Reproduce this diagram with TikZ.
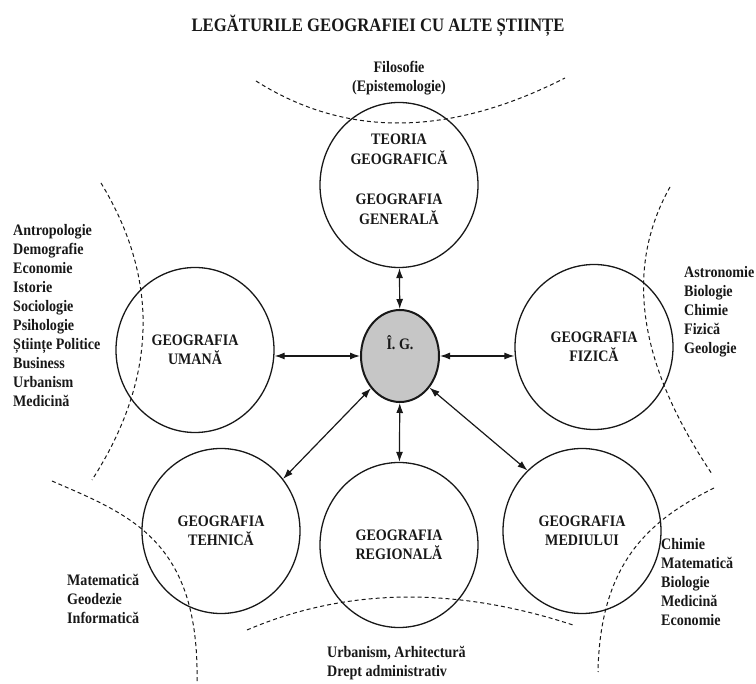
\documentclass[tikz,border=0pt]{standalone}
\usepackage{fontspec}
\setmainfont{Liberation Serif}[FakeStretch=0.88]
\usetikzlibrary{shapes.geometric,arrows.meta}
\definecolor{ink}{RGB}{24,24,24}
\definecolor{igfill}{RGB}{198,198,198}
\begin{document}
\begin{tikzpicture}[x=1pt,y=-1pt,
    every node/.style={font=\fontsize{16}{19}\selectfont\bfseries, text=ink},
    geo/.style={draw=ink, line width=1.3pt, ellipse, minimum width=158pt, minimum height=165pt, inner sep=0pt, align=center},
    link/.style={draw=ink, line width=1.2pt, {Latex[length=10pt,width=7pt]}-{Latex[length=10pt,width=7pt]}},
    border/.style={draw=ink, line width=1pt, dash pattern=on 4pt off 3pt},
    lst/.style={align=left, anchor=base west, inner sep=0pt}]
  \useasboundingbox (0,0) rectangle (756,684);
  \node[anchor=base, inner sep=0pt, font=\fontsize{19}{23}\selectfont\bfseries] (title) at (378,32) {LEGĂTURILE GEOGRAFIEI CU ALTE ȘTIINȚE};
  \draw[border] (256,81) .. controls (346,138) and (449,137) .. (565,78);
  \draw[border] (101,183) .. controls (160,280) and (157,379) .. (92,480);
  \draw[border] (670,187) .. controls (624,269) and (638,364) .. (712,474);
  \draw[border] (52,481) .. controls (130,515) and (200,540) .. (197,684);
  \draw[border] (714,488) .. controls (652,519) and (600,560) .. (598,672);
  \draw[border] (247,630) .. controls (345,588) and (454,586) .. (573,625);
  \node[geo] (teo) at (399,185) {\raisebox{40pt}[0pt][0pt]{\begin{tabular}[t]{@{}c@{}}TEORIA\\GEOGRAFICĂ\\[21pt]GEOGRAFIA\\GENERALĂ\end{tabular}}};
  \node[geo] (uma) at (195,350) {GEOGRAFIA\\UMANĂ};
  \node[geo] (fiz) at (594,347) {GEOGRAFIA\\FIZICĂ};
  \node[geo] (teh) at (221,531) {GEOGRAFIA\\TEHNICĂ};
  \node[geo] (reg) at (399,545) {GEOGRAFIA\\REGIONALĂ};
  \node[geo] (med) at (582,531) {GEOGRAFIA\\MEDIULUI};
  \node[ellipse, draw=ink, line width=2pt, fill=igfill, minimum width=78pt, minimum height=92pt, inner sep=0pt] (ig) at (400,356) {\raisebox{6pt}[0pt][0pt]{Î. G.}};
  \draw[link] (teo) -- (ig);
  \draw[link] (ig.west) -- (ig.west -| uma.east);
  \draw[link] (ig.east) -- (ig.east -| fiz.west);
  \draw[link] (ig.228) -- (teh.40);
  \draw[link] (ig) -- (reg);
  \draw[link] (ig.313) -- (med.132);
  \node[align=center, anchor=base, inner sep=0pt] (filo) at (399,92) {Filosofie\\(Epistemologie)};
  \node[lst] (umalist) at (13,407) {Antropologie\\Demografie\\Economie\\Istorie\\Sociologie\\Psihologie\\Științe Politice\\Business\\Urbanism\\Medicină};
  \node[lst] (fizlist) at (684,354) {Astronomie\\Biologie\\Chimie\\Fizică\\Geologie};
  \node[lst] (tehlist) at (67,624) {Matematică\\Geodezie\\Informatică};
  \node[lst] (medlist) at (661,626) {Chimie\\Matematică\\Biologie\\Medicină\\Economie};
  \node[lst] (reglist) at (327,677) {Urbanism, Arhitectură\\Drept administrativ};
\end{tikzpicture}
\end{document}
